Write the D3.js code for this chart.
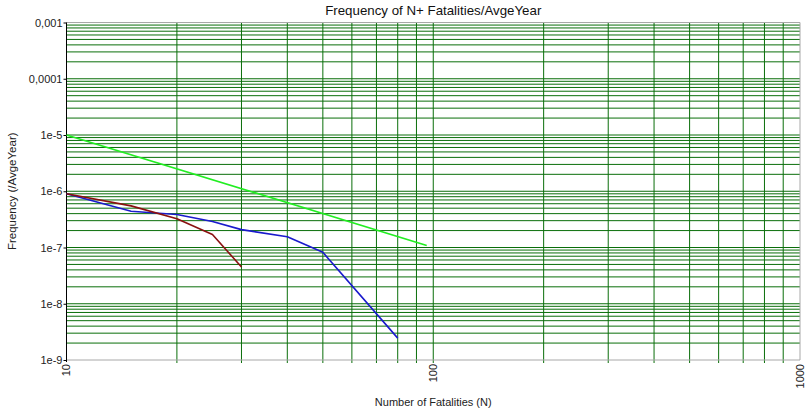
<!DOCTYPE html>
<html>
<head>
<meta charset="utf-8">
<script src="https://cdn.jsdelivr.net/npm/d3@7"></script>
<style>
  html, body { margin: 0; padding: 0; background: #fff; }
  svg { display: block; font-family: "Liberation Sans", Arial, sans-serif; }
</style>
</head>
<body>
<svg id="chart" width="808" height="413"></svg>
<script>
// ---- data ----
const chartTitle = "Frequency of N+ Fatalities/AvgeYear";
const xTitle = "Number of Fatalities (N)";
const yTitle = "Frequency (/AvgeYear)";

const xTickValues = [10, 100, 1000];
const xTickLabels = ["10", "100", "1000"];
const yTickValues = [1e-9, 1e-8, 1e-7, 1e-6, 1e-5, 1e-4, 1e-3];
const yTickLabels = ["1e-9", "1e-8", "1e-7", "1e-6", "1e-5", "0,0001", "0,001"];

// criterion line (green)
const greenN = [10, 96];
const greenF = [1e-5, 1.09e-7];
// blue series
const blueN = [10, 15, 20, 25, 30, 40, 50, 80];
const blueF = [9.0e-7, 4.4e-7, 3.85e-7, 2.9e-7, 2.08e-7, 1.55e-7, 8.2e-8, 2.45e-9];
// brown series
const brownN = [10, 15, 20, 25, 30];
const brownF = [9.0e-7, 5.5e-7, 3.25e-7, 1.7e-7, 4.5e-8];

// ---- layout ----
const svg = d3.select("#chart");
const pL = 66.5, pR = 800, pT = 22.5, pB = 360;
const x = d3.scaleLog().domain([10, 1000]).range([pL, pR]);
const y = d3.scaleLog().domain([1e-9, 1e-3]).range([pB, pT]);

const gridColor = "#0a6e0a";

// horizontal minor grid
const yGrid = y.ticks().filter(v => v > 1e-9 * 1.0001 && v < 1e-3 * 0.9999);
svg.append("g").selectAll("line").data(yGrid).join("line")
  .attr("x1", pL).attr("x2", pR)
  .attr("y1", d => y(d)).attr("y2", d => y(d))
  .attr("stroke", gridColor).attr("stroke-width", 1);

// vertical grid
const xGrid = x.ticks().filter(v => v > 10 * 1.0001 && v < 1000 * 0.9999);
svg.append("g").selectAll("line").data(xGrid).join("line")
  .attr("x1", d => x(d)).attr("x2", d => x(d))
  .attr("y1", pT).attr("y2", pB + 3)
  .attr("stroke", gridColor).attr("stroke-width", 1);

// borders (top, right, bottom)
svg.append("path")
  .attr("d", `M${pL},${pT}H${pR}V${pB}H${pL}`)
  .attr("fill", "none").attr("stroke", "#a8a8a8").attr("stroke-width", 1);

// y axis
const yAxis = d3.axisLeft(y)
  .tickValues(yTickValues)
  .tickFormat((d, i) => yTickLabels[i])
  .tickSize(3).tickSizeOuter(0);
const gy = svg.append("g").attr("transform", `translate(${pL},0)`).call(yAxis);
gy.select(".domain").attr("stroke", "#000").attr("d", `M0,${pT}V${pB + 2}`);
gy.selectAll(".tick line").attr("stroke", "#000");
gy.selectAll(".tick text").attr("font-size", 11).attr("fill", "#222")
  .attr("font-family", "Liberation Sans, Arial, sans-serif").attr("x", -4);

// x tick labels (rotated)
svg.append("g").selectAll("text").data(xTickValues).join("text")
  .attr("transform", d => `translate(${x(d)},${pB + 4}) rotate(-90)`)
  .attr("text-anchor", "end").attr("dy", "0.35em")
  .attr("font-size", 11).attr("fill", "#222")
  .text((d, i) => xTickLabels[i]);

// series
const line = d3.line().x(d => x(d[0])).y(d => y(d[1]));
function drawSeries(ns, fs, color) {
  const pts = ns.map((n, i) => [n, fs[i]]);
  svg.append("path").datum(pts).attr("d", line)
    .attr("fill", "none").attr("stroke", color).attr("stroke-width", 1.6)
    .attr("stroke-linejoin", "round");
}
drawSeries(greenN, greenF, "#22ee22");
drawSeries(blueN, blueF, "#1a1acc");
drawSeries(brownN, brownF, "#8a1010");

// titles
svg.append("text").attr("x", (pL + pR) / 2).attr("y", 15)
  .attr("text-anchor", "middle").attr("font-size", 13.3).attr("fill", "#111")
  .text(chartTitle);
svg.append("text").attr("x", (pL + pR) / 2).attr("y", 406)
  .attr("text-anchor", "middle").attr("font-size", 11).attr("fill", "#222")
  .text(xTitle);
svg.append("text").attr("transform", `translate(16,${(pT + pB) / 2}) rotate(-90)`)
  .attr("text-anchor", "middle").attr("font-size", 11.5).attr("fill", "#222")
  .text(yTitle);
</script>
</body>
</html>
